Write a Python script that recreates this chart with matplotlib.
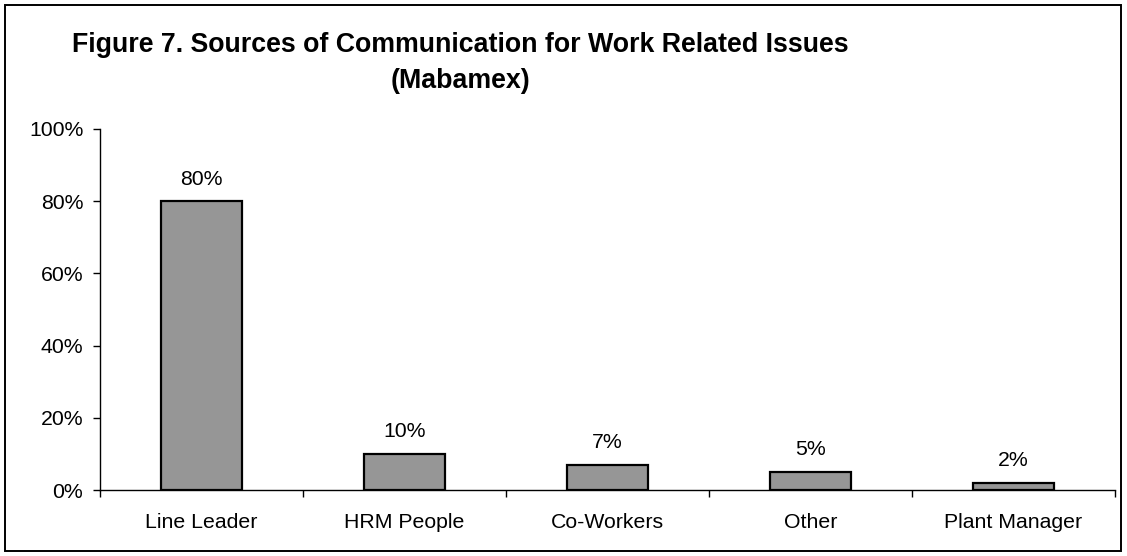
import matplotlib
matplotlib.use("Agg")
import matplotlib.pyplot as plt
from matplotlib.patches import Rectangle
from matplotlib.ticker import FixedLocator, PercentFormatter

categories = ["Line Leader", "HRM People", "Co-Workers", "Other", "Plant Manager"]
values = [80, 10, 7, 5, 2]
yticks = [0, 20, 40, 60, 80, 100]

plt.rcParams["font.family"] = ["Liberation Sans", "DejaVu Sans"]

W, H = 1127, 556
fig = plt.figure(figsize=(W / 100, H / 100), dpi=100)
ax = fig.add_axes([100 / W, 1 - 490 / H, 1015 / W, 361 / H])

x = list(range(len(categories)))
bars = ax.bar(x, values, width=0.40, color="#969696", edgecolor="black",
              linewidth=1.6, zorder=3)

for rect, v in zip(bars, values):
    ax.annotate(f"{v}%", (rect.get_x() + rect.get_width() / 2, v),
                xytext=(0, 12), textcoords="offset points",
                ha="center", va="baseline", fontsize=15.3)

ax.set_xlim(-0.5, len(categories) - 0.5)
ax.set_ylim(0, 100)
ax.set_yticks(yticks)
ax.yaxis.set_major_formatter(PercentFormatter(decimals=0))

ax.set_xticks(x)
ax.set_xticklabels(categories, fontsize=15.3)
ax.xaxis.set_minor_locator(FixedLocator([i - 0.5 for i in range(len(categories) + 1)]))
ax.tick_params(axis="x", which="major", length=0, pad=16.5)
ax.tick_params(axis="x", which="minor", length=5, width=1, direction="out")
ax.tick_params(axis="y", length=5, width=1, direction="out", labelsize=15.3, pad=7)

for side in ("top", "right"):
    ax.spines[side].set_visible(False)
for side in ("left", "bottom"):
    ax.spines[side].set_linewidth(1)

fig.text(460 / W, 1 - 52 / H, "Figure 7. Sources of Communication for Work Related Issues",
         ha="center", va="baseline", fontsize=19.3, fontweight="bold")
fig.text(460 / W, 1 - 88 / H, "(Mabamex)",
         ha="center", va="baseline", fontsize=19.3, fontweight="bold")

fig.patches.append(Rectangle((5 / W, 1 - 551 / H), 1116 / W, 546 / H,
                             transform=fig.transFigure, fill=False,
                             edgecolor="black", linewidth=1.4))

fig.savefig("out.png", dpi=100)
